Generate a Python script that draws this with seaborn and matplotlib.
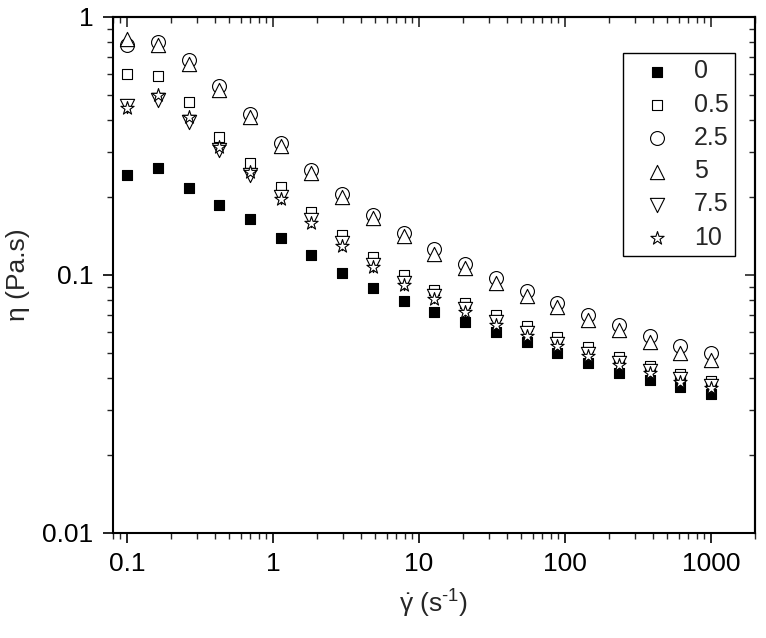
import matplotlib
matplotlib.use('Agg')
import matplotlib.pyplot as plt
import matplotlib.ticker as mticker
import seaborn as sns
import pandas as pd

# shear rate (s^-1), 20 points from 0.1 to 1000
shear_rate = [0.1, 0.162, 0.264, 0.428, 0.695, 1.13, 1.83, 2.98, 4.83, 7.85,
              12.7, 20.7, 33.6, 54.6, 88.6, 144, 234, 379, 616, 1000]

# viscosity (Pa.s) for each concentration
eta_0 = [0.244, 0.26, 0.217, 0.187, 0.165, 0.139, 0.119, 0.102, 0.089, 0.0795,
         0.072, 0.066, 0.0603, 0.0551, 0.050, 0.0455, 0.0418, 0.0392, 0.0367, 0.0346]
eta_05 = [0.60, 0.59, 0.47, 0.343, 0.272, 0.22, 0.175, 0.143, 0.117, 0.100,
          0.0875, 0.078, 0.070, 0.0634, 0.0577, 0.0527, 0.0482, 0.0444, 0.0413, 0.0389]
eta_25 = [0.78, 0.80, 0.68, 0.54, 0.42, 0.325, 0.255, 0.206, 0.171, 0.146,
          0.126, 0.110, 0.097, 0.087, 0.078, 0.070, 0.064, 0.058, 0.053, 0.050]
eta_5 = [0.82, 0.78, 0.66, 0.52, 0.41, 0.315, 0.248, 0.200, 0.166, 0.141,
         0.121, 0.106, 0.093, 0.083, 0.075, 0.067, 0.061, 0.055, 0.050, 0.047]
eta_75 = [0.45, 0.477, 0.39, 0.305, 0.245, 0.20, 0.163, 0.133, 0.109, 0.093,
          0.083, 0.074, 0.066, 0.0595, 0.054, 0.0495, 0.0455, 0.0425, 0.0395, 0.037]
eta_10 = [0.445, 0.50, 0.41, 0.313, 0.25, 0.197, 0.159, 0.13, 0.107, 0.0915,
          0.081, 0.072, 0.064, 0.058, 0.053, 0.0485, 0.0448, 0.0416, 0.0386, 0.0364]

labels = ['0', '0.5', '2.5', '5', '7.5', '10']
series = [eta_0, eta_05, eta_25, eta_5, eta_75, eta_10]

# estilo de cada serie: marcador, relleno, tamaño
markers = ['s', 's', 'o', '^', 'v', '*']
faces = ['black', 'white', 'white', 'white', 'white', 'white']
sizes = [62, 62, 100, 105, 105, 100]

sns.set_style('ticks')
plt.rcParams['font.family'] = ['Liberation Sans', 'DejaVu Sans']
plt.rcParams['mathtext.fontset'] = 'custom'
plt.rcParams['mathtext.rm'] = 'Liberation Sans'
plt.rcParams['mathtext.it'] = 'Liberation Sans'

fig = plt.figure(figsize=(7.66, 6.38), dpi=100)
ax = fig.add_axes([0.1475, 0.1646, 0.8381, 0.8088])

for lab, vals, m, fc, s in zip(labels, series, markers, faces, sizes):
    df = pd.DataFrame({'x': shear_rate, 'y': vals})
    sns.scatterplot(data=df, x='x', y='y', marker=m, s=s, facecolor=fc,
                    edgecolor='black', linewidth=0.8, ax=ax, label=lab, zorder=3)

ax.set_xscale('log')
ax.set_yscale('log')
ax.set_xlim(0.08, 2000)
ax.set_ylim(0.01, 1)

fmt = mticker.FuncFormatter(lambda v, p: '{:g}'.format(v))
ax.xaxis.set_major_locator(mticker.FixedLocator([0.1, 1, 10, 100, 1000]))
ax.yaxis.set_major_locator(mticker.FixedLocator([0.01, 0.1, 1]))
ax.xaxis.set_major_formatter(fmt)
ax.yaxis.set_major_formatter(fmt)
ax.xaxis.set_minor_locator(mticker.LogLocator(subs=range(2, 10), numticks=20))
ax.yaxis.set_minor_locator(mticker.LogLocator(subs=range(2, 10), numticks=20))
ax.xaxis.set_minor_formatter(mticker.NullFormatter())
ax.yaxis.set_minor_formatter(mticker.NullFormatter())

for sp in ax.spines.values():
    sp.set_linewidth(1.5)
    sp.set_color('black')
    sp.set_visible(True)

ax.tick_params(which='major', direction='out', length=7, width=1.2,
               labelsize=19, pad=7, colors='black')
ax.tick_params(which='minor', direction='out', length=4, width=1.0)

# ejes espejo arriba y a la derecha con marcas hacia dentro
top = ax.secondary_xaxis('top')
top.xaxis.set_major_locator(mticker.FixedLocator([0.1, 1, 10, 100, 1000]))
top.xaxis.set_minor_locator(mticker.LogLocator(subs=range(2, 10), numticks=20))
top.tick_params(which='major', direction='in', length=7, width=1.2, labeltop=False)
top.tick_params(which='minor', direction='in', length=4, width=1.0)
top.xaxis.set_major_formatter(mticker.NullFormatter())
top.xaxis.set_minor_formatter(mticker.NullFormatter())
top.spines['top'].set_linewidth(1.5)

right = ax.secondary_yaxis('right')
right.yaxis.set_major_locator(mticker.FixedLocator([0.01, 0.1, 1]))
right.yaxis.set_minor_locator(mticker.LogLocator(subs=range(2, 10), numticks=20))
right.tick_params(which='major', direction='in', length=7, width=1.2, labelright=False)
right.tick_params(which='minor', direction='in', length=4, width=1.0)
right.yaxis.set_major_formatter(mticker.NullFormatter())
right.yaxis.set_minor_formatter(mticker.NullFormatter())
right.spines['right'].set_linewidth(1.5)

xlabel = r'$\dot{\gamma}$ (s$^{' + '\u2010' + r'1}$)'
ax.set_xlabel(xlabel, fontsize=19, labelpad=8)
ax.set_ylabel('η (Pa.s)', fontsize=19, labelpad=9)

leg = ax.legend(loc='upper right', bbox_to_anchor=(0.969, 0.930), fontsize=18,
                frameon=True, fancybox=False, framealpha=1, edgecolor='black',
                borderpad=0.25, labelspacing=0.37, handlelength=2.2,
                handletextpad=0.4, borderaxespad=0)
leg.get_frame().set_linewidth(1.0)

plt.savefig('out.png', dpi=100)
